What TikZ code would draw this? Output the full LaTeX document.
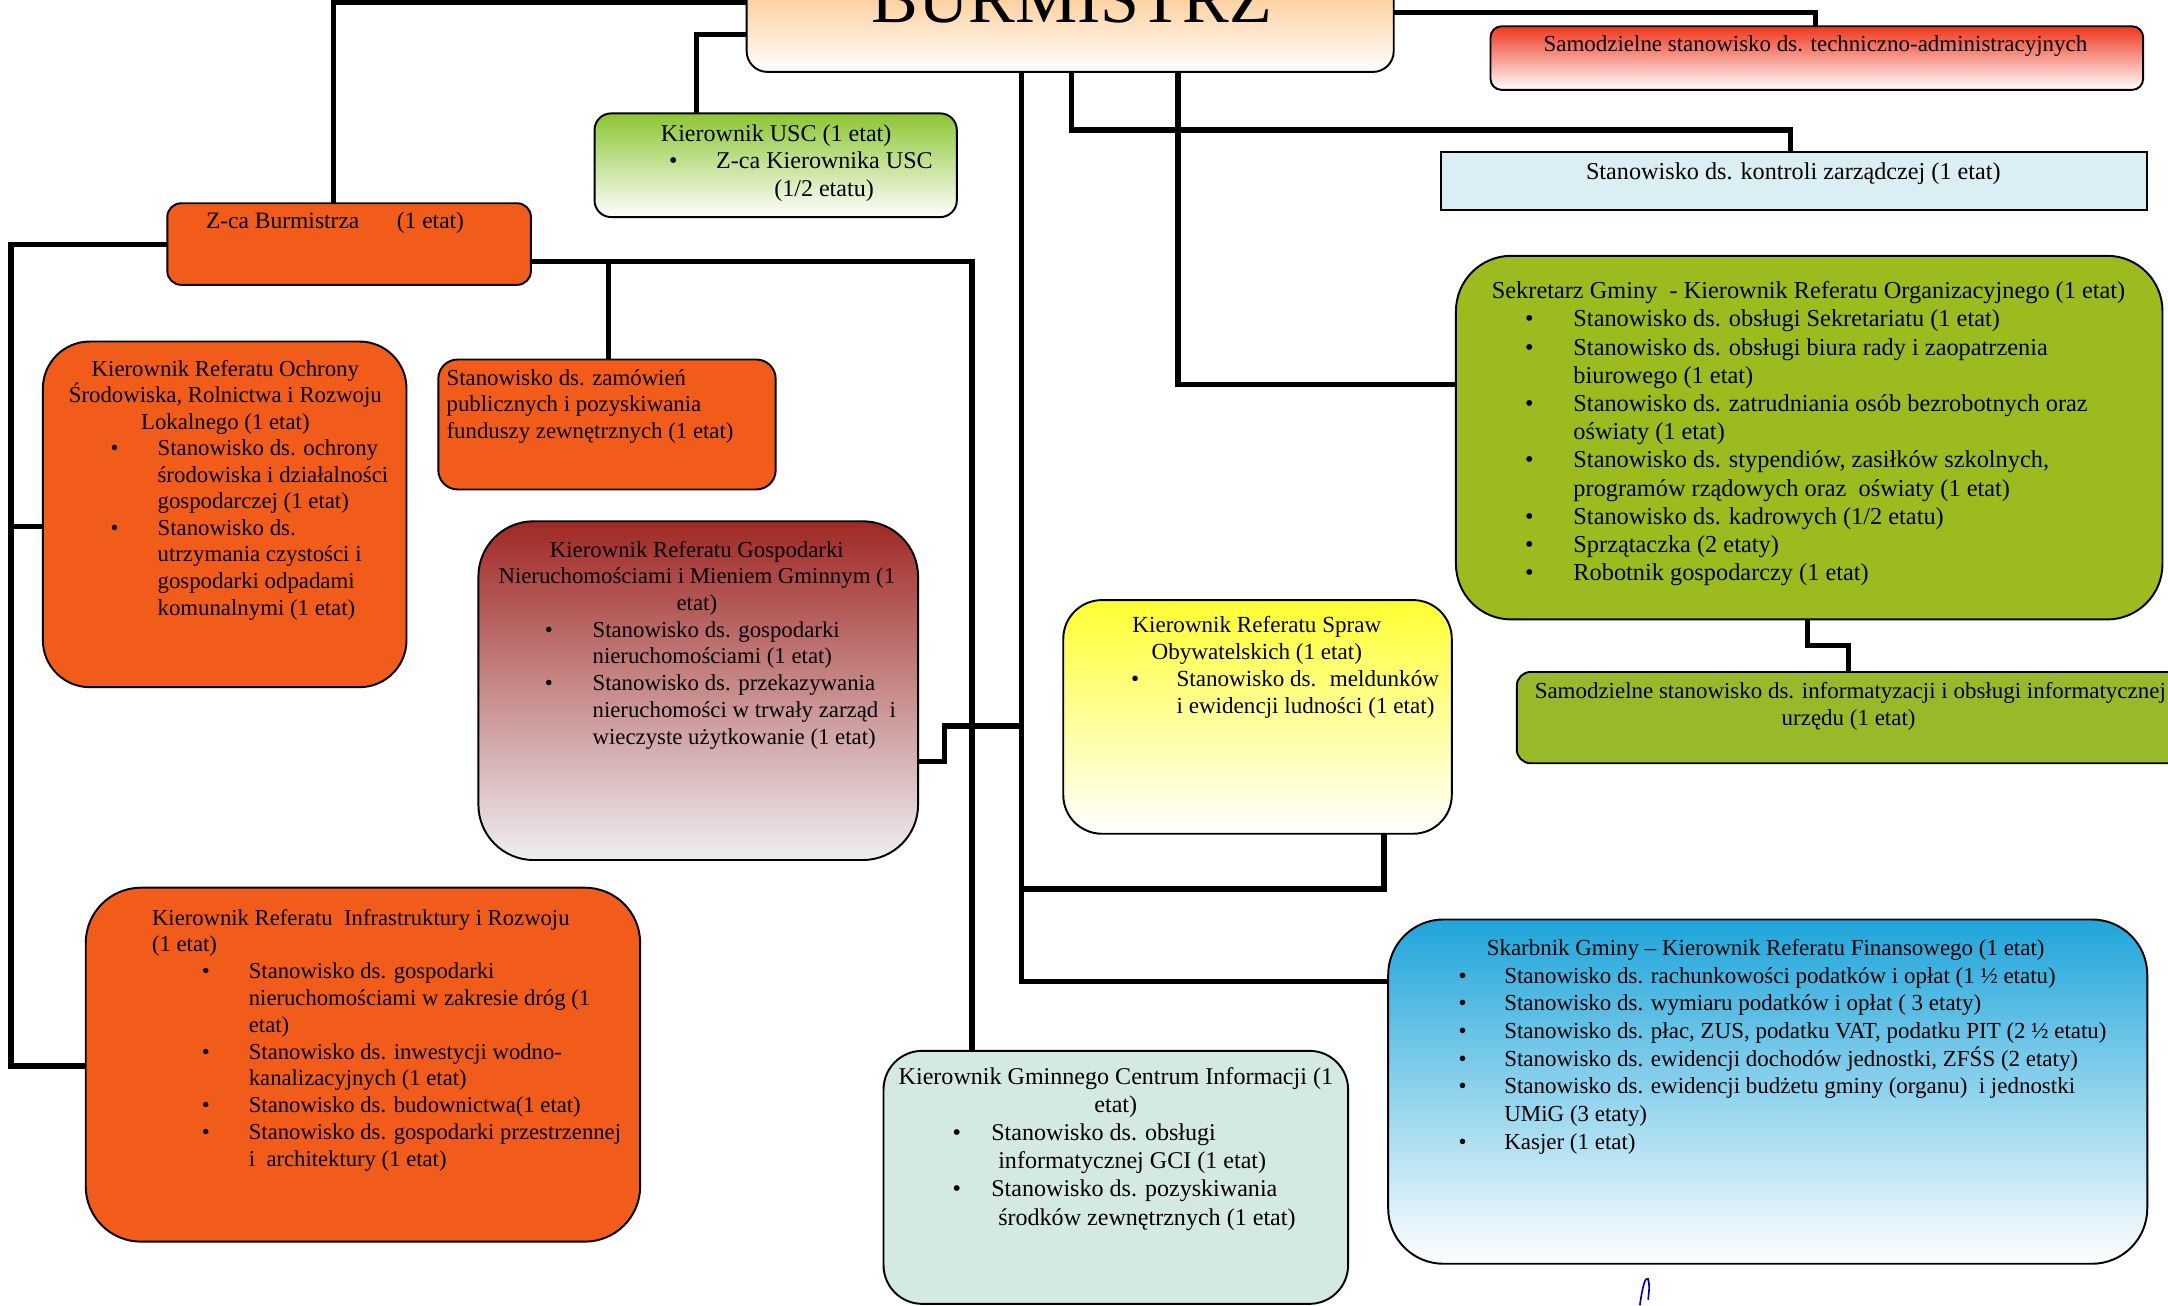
\documentclass[tikz,border=0pt]{standalone}
\usepackage{fontspec}
\setmainfont{Liberation Serif}
\usetikzlibrary{fit}
\definecolor{cOrange}{RGB}{242,92,26}
\definecolor{cOlive}{RGB}{155,187,30}
\definecolor{cOliveB}{RGB}{152,186,42}
\definecolor{cCtrl}{RGB}{218,238,243}
\definecolor{cMint}{RGB}{211,233,225}
\definecolor{cSky}{RGB}{30,165,218}
\definecolor{cMaroon}{RGB}{160,40,36}
\definecolor{cGrayW}{RGB}{238,238,242}
\definecolor{cYel}{RGB}{255,255,50}
\definecolor{cLgreen}{RGB}{140,198,50}
\definecolor{cBurm}{RGB}{250,175,90}
\definecolor{cTred}{RGB}{238,55,30}
\newlength\BO \newlength\BW \newlength\CO
\newcommand\bitem[1]{\noindent\hspace*{\BO}\makebox[\BW][l]{•}#1\par}
\newcommand\cont[1]{\noindent\hspace*{\CO}#1\par}
\newcommand\lft[2]{\noindent\hspace*{#1}#2\par}
\newcommand\ctrat[2]{\noindent\hspace*{#1}\makebox[0pt][c]{#2}\par}
\newenvironment{blk}[2]{\begin{minipage}[t]{300pt}\fontsize{#1}{#2}\selectfont\parskip=0pt\parindent=0pt}{\end{minipage}}
\begin{document}
\begin{tikzpicture}[x=0.5pt,y=-0.5pt,
  box/.style={draw=black,line width=0.7pt,inner sep=0pt,outer sep=0pt},
  conn/.style={line width=1.9pt,black},
  txt/.style={inner sep=0pt,outer sep=0pt,anchor=base west,text=black}]
\useasboundingbox (0,0) rectangle (1568,944);
\fill[white] (0,0) rectangle (1568,944);

% ---------- boxes ----------
\node[box,fit={(540,-40) (1008,52)},rounded corners=7.5pt,top color=cBurm,middle color=cBurm!40,bottom color=white] (burm) {};
\node[box,fit={(1078,19) (1550,65)},rounded corners=4pt,top color=cTred,middle color=cTred!25,bottom color=white] (techn) {};
\node[box,fit={(430,82) (692,157)},rounded corners=6pt,top color=cLgreen,bottom color=white] (usc) {};
\node[box,fit={(1042,110) (1553,152)},fill=cCtrl] (kontr) {};
\node[box,fit={(121,147) (384,206)},rounded corners=5pt,fill=cOrange] (zca) {};
\node[box,fit={(1053,185) (1564,448)},rounded corners=20pt,fill=cOlive] (sekr) {};
\node[box,fit={(31,247) (294,497)},rounded corners=17pt,fill=cOrange] (ochr) {};
\node[box,fit={(317,260) (561,354)},rounded corners=7pt,fill=cOrange] (zam) {};
\node[box,fit={(346,377) (664,622)},rounded corners=20pt,top color=cMaroon,middle color=cMaroon!30,bottom color=cGrayW] (gosp) {};
\node[box,fit={(769,434) (1050,603)},rounded corners=14pt,top color=cYel,middle color=cYel!45,bottom color=white] (spraw) {};
\node[box,fit={(1097,486) (1600,552)},rounded corners=5pt,fill=cOliveB] (info) {};
\node[box,fit={(62,642) (463,898)},rounded corners=20pt,fill=cOrange] (infra) {};
\node[box,fit={(639,760) (975,943)},rounded corners=14pt,fill=cMint] (gci) {};
\node[box,fit={(1004,665) (1553,914)},rounded corners=20pt,top color=cSky,middle color=cSky!25,bottom color=white] (skarb) {};

% ---------- texts ----------
\node[txt,anchor=base] (burm-t) at (775,16) {\fontsize{25.3}{30}\selectfont BURMISTRZ};
\node[txt,anchor=base] (techn-t) at (1313,37) {\fontsize{8.3}{10}\selectfont Samodzielne stanowisko ds. techniczno-administracyjnych};
\node[txt,anchor=base] (kontr-t) at (1297,130) {\fontsize{8.75}{10}\selectfont Stanowisko ds. kontroli zarządczej (1 etat)};
\node[txt] (zca-t) at (121,165) {\fontsize{8.5}{10}\selectfont\hspace*{14pt}\makebox[69pt][l]{Z-ca Burmistrza}(1 etat)};

\node[txt] (usc-t) at (430,102) {\begin{blk}{8.7}{10}
\setlength\BO{27pt}\setlength\BW{17pt}
\lft{24pt}{Kierownik USC (1 etat)}
\bitem{Z-ca Kierownika USC}
\lft{65pt}{(1/2 etatu)}
\end{blk}};

\node[txt] (sekr-t) at (1053,216) {\begin{blk}{8.8}{10.2}
\setlength\BO{25pt}\setlength\BW{17.5pt}\setlength\CO{42.5pt}
\lft{13pt}{Sekretarz Gminy~ - Kierownik Referatu Organizacyjnego (1 etat)}
\bitem{Stanowisko ds. obsługi Sekretariatu (1 etat)}
\bitem{Stanowisko ds. obsługi biura rady i zaopatrzenia}
\cont{biurowego (1 etat)}
\bitem{Stanowisko ds. zatrudniania osób bezrobotnych oraz}
\cont{oświaty (1 etat)}
\bitem{Stanowisko ds. stypendiów, zasiłków szkolnych,}
\cont{programów rządowych oraz~ oświaty (1 etat)}
\bitem{Stanowisko ds. kadrowych (1/2 etatu)}
\bitem{Sprzątaczka (2 etaty)}
\bitem{Robotnik gospodarczy (1 etat)}
\end{blk}};

\node[txt] (ochr-t) at (31,272) {\begin{blk}{8.25}{9.6}
\setlength\BO{24.5pt}\setlength\BW{17pt}\setlength\CO{41.5pt}
\ctrat{66pt}{Kierownik Referatu Ochrony}
\ctrat{66pt}{Środowiska, Rolnictwa i Rozwoju}
\ctrat{66pt}{Lokalnego (1 etat)}
\bitem{Stanowisko ds. ochrony}
\cont{środowiska i działalności}
\cont{gospodarczej (1 etat)}
\bitem{Stanowisko ds.}
\cont{utrzymania czystości i}
\cont{gospodarki odpadami}
\cont{komunalnymi (1 etat)}
\end{blk}};

\node[txt] (zam-t) at (317,278.5) {\begin{blk}{8.25}{9.6}
\lft{3pt}{Stanowisko ds. zamówień}
\lft{3pt}{publicznych i pozyskiwania}
\lft{3pt}{funduszy zewnętrznych (1 etat)}
\end{blk}};

\node[txt] (gosp-t) at (346,403) {\begin{blk}{8.25}{9.65}
\setlength\BO{24pt}\setlength\BW{17.3pt}\setlength\CO{41.3pt}
\ctrat{79pt}{Kierownik Referatu Gospodarki}
\ctrat{79pt}{Nieruchomościami i Mieniem Gminnym (1}
\ctrat{79pt}{etat)}
\bitem{Stanowisko ds. gospodarki}
\cont{nieruchomościami (1 etat)}
\bitem{Stanowisko ds. przekazywania}
\cont{nieruchomości w trwały zarząd~ i}
\cont{wieczyste użytkowanie (1 etat)}
\end{blk}};

\node[txt] (spraw-t) at (769,457.5) {\begin{blk}{8.35}{9.75}
\setlength\BO{24.5pt}\setlength\BW{16.5pt}\setlength\CO{41pt}
\ctrat{70pt}{Kierownik Referatu Spraw}
\ctrat{70pt}{Obywatelskich (1 etat)}
\bitem{Stanowisko ds.~ meldunków}
\cont{i ewidencji ludności (1 etat)}
\end{blk}};

\node[txt] (info-t) at (1097,505) {\begin{blk}{8.3}{10}
\lft{6.5pt}{Samodzielne stanowisko ds. informatyzacji i obsługi informatycznej}
\ctrat{120pt}{urzędu (1 etat)}
\end{blk}};

\node[txt] (infra-t) at (62,669) {\begin{blk}{8.2}{9.7}
\setlength\BO{42pt}\setlength\BW{17pt}\setlength\CO{59pt}
\lft{24pt}{Kierownik Referatu~ Infrastruktury i Rozwoju}
\lft{24pt}{(1 etat)}
\bitem{Stanowisko ds. gospodarki}
\cont{nieruchomościami w zakresie dróg (1}
\cont{etat)}
\bitem{Stanowisko ds. inwestycji wodno-}
\cont{kanalizacyjnych (1 etat)}
\bitem{Stanowisko ds. budownictwa(1 etat)}
\bitem{Stanowisko ds. gospodarki przestrzennej}
\cont{i~ architektury (1 etat)}
\end{blk}};

\node[txt] (gci-t) at (639,784) {\begin{blk}{8.7}{10.2}
\setlength\BO{25pt}\setlength\BW{14pt}\setlength\CO{41.5pt}
\lft{5.5pt}{Kierownik Gminnego Centrum Informacji (1}
\ctrat{84pt}{etat)}
\bitem{Stanowisko ds. obsługi}
\cont{informatycznej GCI (1 etat)}
\bitem{Stanowisko ds. pozyskiwania}
\cont{środków zewnętrznych (1 etat)}
\end{blk}};

\node[txt] (skarb-t) at (1004,691) {\begin{blk}{8.3}{10}
\setlength\BO{25.5pt}\setlength\BW{16.5pt}\setlength\CO{42pt}
\ctrat{136.5pt}{Skarbnik Gminy – Kierownik Referatu Finansowego (1 etat)}
\bitem{Stanowisko ds. rachunkowości podatków i opłat (1 ½ etatu)}
\bitem{Stanowisko ds. wymiaru podatków i opłat ( 3 etaty)}
\bitem{Stanowisko ds. płac, ZUS, podatku VAT, podatku PIT (2 ½ etatu)}
\bitem{Stanowisko ds. ewidencji dochodów jednostki, ZFŚS (2 etaty)}
\bitem{Stanowisko ds. ewidencji budżetu gminy (organu)~ i jednostki}
\cont{UMiG (3 etaty)}
\bitem{Kasjer (1 etat)}
\end{blk}};

% ---------- connectors ----------
\coordinate (j1) at (241,2);
\draw[conn] (burm.west |- j1) -- (j1) -- (zca.north -| j1);
\coordinate (j2) at (504,25);
\draw[conn] (burm.west |- j2) -- (j2) -- (usc.north -| j2);
\coordinate (j3) at (1313,9);
\draw[conn] (burm.east |- j3) -- (j3) -- (techn.north -| j3);
\coordinate (j4a) at (775,94); \coordinate (j4b) at (1295,94);
\draw[conn] (burm.south -| j4a) -- (j4a) -- (j4b) -- (kontr.north -| j4b);
\coordinate (j5) at (852,278);
\draw[conn] (burm.south -| j5) -- (j5) -- (sekr.west |- j5);
\coordinate (j6) at (739,710);
\draw[conn] (burm.south -| j6) -- (j6) -- (skarb.west |- j6);
\coordinate (j7a) at (739,643); \coordinate (j7b) at (1001,643);
\draw[conn] (j7a) -- (j7b) -- (spraw.south -| j7b);
\coordinate (j8a) at (739,525); \coordinate (j8b) at (683,525); \coordinate (j8c) at (683,551);
\draw[conn] (j8a) -- (j8b) -- (j8c) -- (gosp.east |- j8c);
\coordinate (j9a) at (8,177); \coordinate (j9b) at (8,771);
\draw[conn] (zca.west |- j9a) -- (j9a) -- (j9b) -- (infra.west |- j9b);
\coordinate (j10) at (8,381);
\draw[conn] (j10) -- (ochr.west |- j10);
\coordinate (j11) at (703,189);
\draw[conn] (zca.east |- j11) -- (j11) -- (gci.north -| j11);
\coordinate (j12) at (440,189);
\draw[conn] (j12) -- (zam.north -| j12);
\coordinate (j13a) at (1307,467); \coordinate (j13b) at (1337,467);
\draw[conn] (sekr.south -| j13a) -- (j13a) -- (j13b) -- (info.north -| j13b);

% signature stroke
\draw[blue!70!black,line width=0.6pt] (1186,944) .. controls (1188,930) and (1190,923) .. (1192,925) .. controls (1193,930) .. (1192,940);
\end{tikzpicture}
\end{document}
